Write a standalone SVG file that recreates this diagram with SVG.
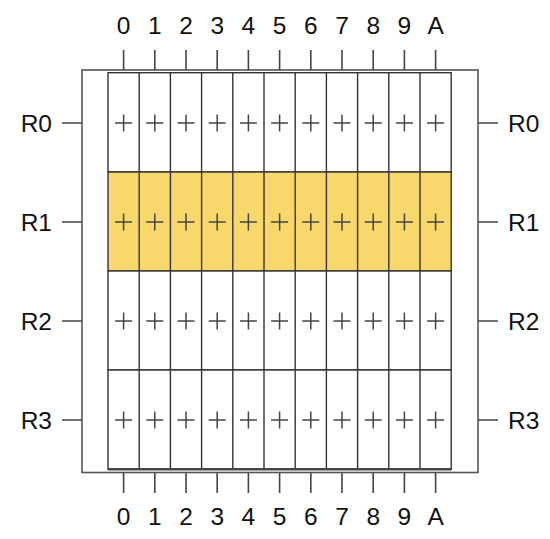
<svg xmlns="http://www.w3.org/2000/svg" width="550" height="539" viewBox="0 0 550 539">
<style>
.frame{fill:#fff;stroke:#555;stroke-width:1.6}
.cell{fill:#fff;stroke:#333;stroke-width:1.4}
.hl{fill:#F8D86A}
.tick{stroke:#444;stroke-width:1.6;fill:none}
.plus{stroke:#444;stroke-width:1.5;fill:none}
.lbl{font-family:"Liberation Sans",Arial,sans-serif;font-size:24.5px;fill:#111}
</style>
<defs>
<path id="p" class="plus" d="M-8.5,0H8.5M0,-8.5V8.5"/>
</defs>
<g id="frame"><rect class="frame" x="82" y="70" width="396" height="402.5"/></g>
<g id="connectors">
<path class="tick" d="M123.6,50V70M154.8,50V70M186,50V70M217.2,50V70M248.4,50V70M279.6,50V70M310.8,50V70M342,50V70M373.2,50V70M404.4,50V70M435.6,50V70"/>
<path class="tick" d="M123.6,473V493M154.8,473V493M186,473V493M217.2,473V493M248.4,473V493M279.6,473V493M310.8,473V493M342,473V493M373.2,473V493M404.4,473V493M435.6,473V493"/>
<path class="tick" d="M62,123H82M62,222H82M62,321H82M62,420H82"/>
<path class="tick" d="M478,123H498M478,222H498M478,321H498M478,420H498"/>
</g>
<g id="row-R0">
<rect class="cell" x="108" y="72.7" width="343.2" height="99.3"/>
</g>
<g id="row-R1">
<rect class="cell hl" x="108" y="172" width="343.2" height="99"/>
</g>
<g id="row-R2">
<rect class="cell" x="108" y="271" width="343.2" height="99"/>
</g>
<g id="row-R3">
<rect class="cell" x="108" y="370" width="343.2" height="99.3"/>
</g>
<g id="grid">
<path class="cell" style="fill:none" d="M139.2,72.7V469.3M170.4,72.7V469.3M201.6,72.7V469.3M232.8,72.7V469.3M264,72.7V469.3M295.2,72.7V469.3M326.4,72.7V469.3M357.6,72.7V469.3M388.8,72.7V469.3M420,72.7V469.3"/>
<path style="stroke:#444;stroke-width:2.4" d="M108,469.3H451.2"/>
</g>
<g id="pluses">
<g transform="translate(0,123)"><use href="#p" x="123.6"/><use href="#p" x="154.8"/><use href="#p" x="186"/><use href="#p" x="217.2"/><use href="#p" x="248.4"/><use href="#p" x="279.6"/><use href="#p" x="310.8"/><use href="#p" x="342"/><use href="#p" x="373.2"/><use href="#p" x="404.4"/><use href="#p" x="435.6"/></g>
<g transform="translate(0,222)"><use href="#p" x="123.6"/><use href="#p" x="154.8"/><use href="#p" x="186"/><use href="#p" x="217.2"/><use href="#p" x="248.4"/><use href="#p" x="279.6"/><use href="#p" x="310.8"/><use href="#p" x="342"/><use href="#p" x="373.2"/><use href="#p" x="404.4"/><use href="#p" x="435.6"/></g>
<g transform="translate(0,321)"><use href="#p" x="123.6"/><use href="#p" x="154.8"/><use href="#p" x="186"/><use href="#p" x="217.2"/><use href="#p" x="248.4"/><use href="#p" x="279.6"/><use href="#p" x="310.8"/><use href="#p" x="342"/><use href="#p" x="373.2"/><use href="#p" x="404.4"/><use href="#p" x="435.6"/></g>
<g transform="translate(0,420)"><use href="#p" x="123.6"/><use href="#p" x="154.8"/><use href="#p" x="186"/><use href="#p" x="217.2"/><use href="#p" x="248.4"/><use href="#p" x="279.6"/><use href="#p" x="310.8"/><use href="#p" x="342"/><use href="#p" x="373.2"/><use href="#p" x="404.4"/><use href="#p" x="435.6"/></g>
</g>
<g id="col-labels-top" class="lbl" text-anchor="middle">
<text x="123.6" y="34">0</text><text x="154.8" y="34">1</text><text x="186" y="34">2</text><text x="217.2" y="34">3</text><text x="248.4" y="34">4</text><text x="279.6" y="34">5</text><text x="310.8" y="34">6</text><text x="342" y="34">7</text><text x="373.2" y="34">8</text><text x="404.4" y="34">9</text><text x="435.6" y="34">A</text>
</g>
<g id="col-labels-bottom" class="lbl" text-anchor="middle">
<text x="123.6" y="525">0</text><text x="154.8" y="525">1</text><text x="186" y="525">2</text><text x="217.2" y="525">3</text><text x="248.4" y="525">4</text><text x="279.6" y="525">5</text><text x="310.8" y="525">6</text><text x="342" y="525">7</text><text x="373.2" y="525">8</text><text x="404.4" y="525">9</text><text x="435.6" y="525">A</text>
</g>
<g id="row-labels-left" class="lbl" text-anchor="end">
<text x="52" y="131.5">R0</text><text x="52" y="230.5">R1</text><text x="52" y="329.5">R2</text><text x="52" y="428.5">R3</text>
</g>
<g id="row-labels-right" class="lbl" text-anchor="start">
<text x="508" y="131.5">R0</text><text x="508" y="230.5">R1</text><text x="508" y="329.5">R2</text><text x="508" y="428.5">R3</text>
</g>
</svg>
